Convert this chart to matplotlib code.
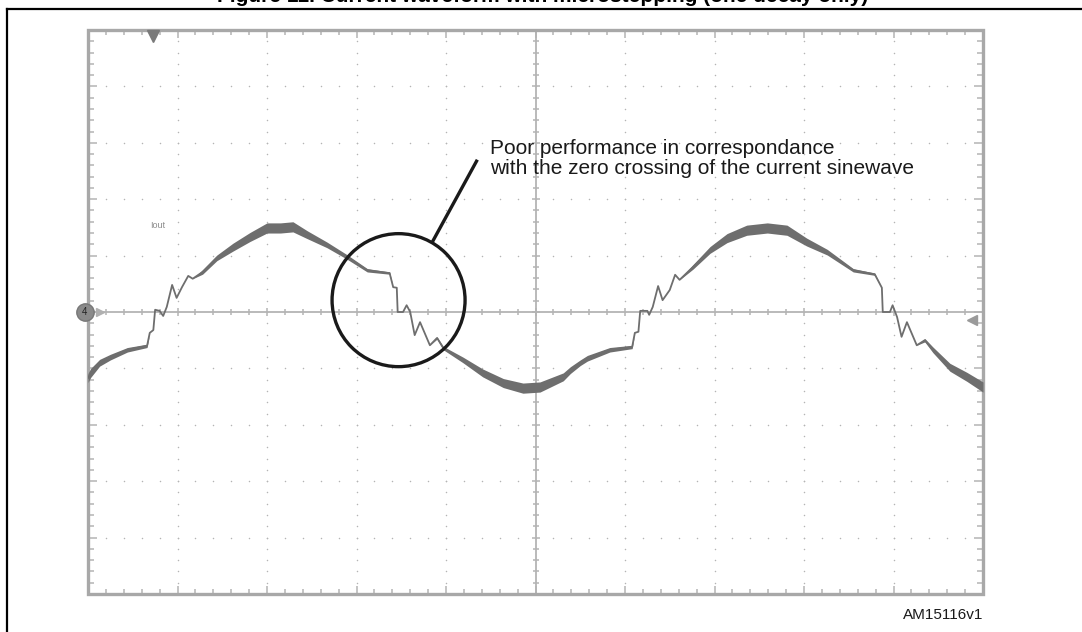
import numpy as np
import matplotlib
matplotlib.use('agg')
import matplotlib.pyplot as plt
from matplotlib.patches import Ellipse, Rectangle
from matplotlib.lines import Line2D
from matplotlib.collections import LineCollection

plt.rcParams['font.family'] = ['Liberation Sans', 'DejaVu Sans']

# scope capture, in screen divisions (10 x 10 graticule, zero at centre)
t_div = [0.00, 0.03, 0.13, 0.25, 0.44, 0.66, 0.69, 0.73, 0.75, 0.80, 0.84, 0.88, 0.94, 0.99,
         1.05, 1.12, 1.17, 1.28, 1.44, 1.62, 1.81, 2.00, 2.15, 2.29, 2.45, 2.67, 2.89, 3.12,
         3.37, 3.41, 3.45, 3.46, 3.52, 3.56, 3.60, 3.65, 3.71, 3.82, 3.90, 3.97, 4.19, 4.41,
         4.64, 4.86, 5.05, 5.31, 5.39, 5.50, 5.58, 5.83, 6.08, 6.11, 6.15, 6.17, 6.25, 6.27,
         6.31, 6.37, 6.42, 6.50, 6.56, 6.61, 6.76, 6.95, 7.14, 7.36, 7.59, 7.81, 8.03, 8.26,
         8.55, 8.79, 8.87, 8.88, 8.96, 8.99, 9.04, 9.09, 9.15, 9.26, 9.35, 9.44, 9.63, 9.82,
         10.00]
iout_div = [-1.17, -1.08, -0.90, -0.80, -0.67, -0.60, -0.37, -0.32, 0.04, 0.02, -0.07, 0.09, 0.48, 0.25,
            0.44, 0.64, 0.59, 0.71, 0.96, 1.15, 1.33, 1.49, 1.49, 1.51, 1.37, 1.19, 0.98, 0.74,
            0.69, 0.44, 0.43, 0.00, 0.00, 0.12, 0.00, -0.41, -0.18, -0.59, -0.46, -0.64, -0.85, -1.08,
            -1.26, -1.35, -1.33, -1.15, -1.03, -0.90, -0.82, -0.67, -0.62, -0.37, -0.35, 0.02, 0.02, -0.05,
            0.09, 0.46, 0.21, 0.39, 0.66, 0.57, 0.80, 1.10, 1.31, 1.45, 1.49, 1.45, 1.24, 1.06,
            0.74, 0.67, 0.43, 0.00, 0.00, 0.12, -0.09, -0.44, -0.18, -0.59, -0.50, -0.67, -0.98, -1.15,
            -1.33]
# half-height of the chopping ripple riding on the trace
ripple_div = [0.08, 0.08, 0.06, 0.05, 0.04, 0.03, 0.0, 0.0, 0.0, 0.0, 0.0, 0.0, 0.0, 0.0,
              0.0, 0.0, 0.0, 0.04, 0.05, 0.07, 0.08, 0.09, 0.09, 0.09, 0.07, 0.05, 0.04, 0.03,
              0.02, 0.0, 0.0, 0.0, 0.0, 0.0, 0.0, 0.0, 0.0, 0.0, 0.02, 0.03, 0.05, 0.07,
              0.08, 0.09, 0.09, 0.07, 0.06, 0.05, 0.05, 0.04, 0.03, 0.0, 0.0, 0.0, 0.0, 0.0,
              0.0, 0.0, 0.0, 0.0, 0.0, 0.0, 0.04, 0.06, 0.08, 0.09, 0.09, 0.09, 0.07, 0.05,
              0.03, 0.02, 0.0, 0.0, 0.0, 0.0, 0.0, 0.0, 0.0, 0.0, 0.03, 0.05, 0.07, 0.08,
              0.09]

W, H = 1082, 632
fig = plt.figure(figsize=(W / 100, H / 100), dpi=100)
fig.patch.set_facecolor('white')

# outer figure frame (runs off the page on the right and bottom)
fig.add_artist(Line2D([7 / W, 7 / W], [1 - 9 / H, -0.05], color='black', lw=1.6,
                      transform=fig.transFigure))
fig.add_artist(Line2D([7 / W, 1.05], [1 - 9 / H, 1 - 9 / H], color='black', lw=1.6,
                      transform=fig.transFigure))

# caption, mostly above the page edge
fig.text(543 / W, 1 - 1.5 / H, 'Figure 11. Current waveform with microstepping (one decay only)',
         ha='center', va='baseline', fontsize=15, fontweight='bold', color='black')

ax = fig.add_axes([88 / W, (H - 594) / H, 895 / W, 564 / H])
ax.set_xlim(0, 10)
ax.set_ylim(-5, 5)
ax.axis('off')

px_x = 10 / 895.0   # divisions per pixel
px_y = 10 / 564.0
grid_c = '#b4b4b4'

# dotted graticule
minor_x = np.arange(0.2, 10, 0.2)
minor_y = np.arange(-4.8, 5, 0.2)
for k in range(1, 10):
    if k == 5:
        continue
    ax.scatter(minor_x, np.full_like(minor_x, k - 5), s=1.2, color=grid_c, lw=0, zorder=1)
    ax.scatter(np.full_like(minor_y, k), minor_y, s=1.2, color=grid_c, lw=0, zorder=1)

# centre axes with tick marks
ax.axhline(0, color=grid_c, lw=1.3, zorder=1)
ax.axvline(5, color=grid_c, lw=1.3, zorder=1)
segs = []
for x in minor_x:
    major = abs(x - round(x)) < 1e-6
    h = (4 if major else 3) * px_y
    segs.append([(x, -h), (x, h)])
    l = (8 if major else 5) * px_y
    segs.append([(x, 5), (x, 5 - l)])
    segs.append([(x, -5), (x, -5 + l)])
for y in minor_y:
    major = abs(y - round(y)) < 1e-6
    w = (4 if major else 3) * px_x
    segs.append([(5 - w, y), (5 + w, y)])
    l = (9 if major else 6) * px_x
    segs.append([(0, y), (l, y)])
    segs.append([(10, y), (10 - l, y)])
ax.add_collection(LineCollection(segs, colors=grid_c, linewidths=1.1, zorder=1))
ax.add_patch(Rectangle((0, -5), 10, 10, fill=False, edgecolor='#a8a8a8', lw=2.4,
                       zorder=2, clip_on=False))

# current trace
t = np.array(t_div)
i = np.array(iout_div)
r = np.array(ripple_div)
trace_c = '#6e6e6e'
ax.fill_between(t, i - r, i + r, color=trace_c, lw=0, zorder=3)
ax.plot(t, i, color=trace_c, lw=1.3, zorder=4, solid_joinstyle='round')

# channel / trigger markers
ax.plot([-3 * px_x], [0], marker='o', ms=12.5, mfc='#8a8a8a', mec='#777777', clip_on=False, zorder=5)
ax.text(-3 * px_x, 0, '4', ha='center', va='center', fontsize=7, color='#222222', zorder=6)
ax.plot([12 * px_x], [0], marker='>', ms=6, color='#b0b0b0', clip_on=False, zorder=5)
ax.plot([0.73], [5 - 6 * px_y], marker='v', ms=8, color='#7a7a7a', clip_on=False, zorder=5)
ax.plot([9.88], [-8 * px_y], marker='<', ms=7, color='#9a9a9a', clip_on=False, zorder=5)
ax.text(0.78, 1.54, 'Iout', ha='center', va='center', fontsize=6.5, color='#8c8c8c')

# annotation
ax.add_patch(Ellipse((3.47, 0.21), 133 * px_x, 133 * px_y, fill=False,
                     edgecolor='#1a1a1a', lw=2.4, zorder=6))
ax.plot([3.84, 4.35], [1.22, 2.70], color='#1a1a1a', lw=2.4, zorder=6, solid_capstyle='butt')
ax.text(4.49, 2.80, 'Poor performance in correspondance', ha='left', va='baseline',
        fontsize=15, color='#1a1a1a', zorder=7)
ax.text(4.49, 2.45, 'with the zero crossing of the current sinewave', ha='left', va='baseline',
        fontsize=15, color='#1a1a1a', zorder=7)

fig.text(983 / W, 1 - 619 / H, 'AM15116v1', ha='right', va='baseline', fontsize=11, color='#1a1a1a')

fig.savefig('out.png', dpi=100)
